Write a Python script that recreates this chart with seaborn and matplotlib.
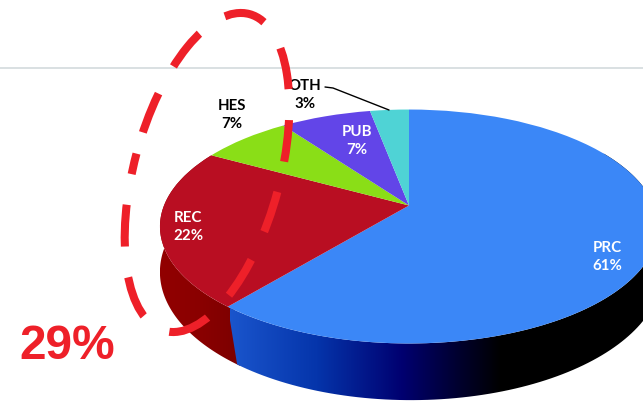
import numpy as np
import matplotlib
matplotlib.use('Agg')
import matplotlib.pyplot as plt
import matplotlib.transforms as mtransforms
from matplotlib.colors import LinearSegmentedColormap
from matplotlib.patches import Ellipse, Polygon
import seaborn as sns

# Pie data
categories = ['PRC', 'REC', 'HES', 'PUB', 'OTH']
shares = [61, 22, 7, 7, 3]
colors = ['#3b87f7', '#b90e22', '#8ade17', '#6245e8', '#4fd3d5']
label_colors = ['white', 'white', 'black', 'white', 'black']
label_xy = [(607, 257), (188, 227), (232, 115), (357, 141), (305, 95)]
circled = ['REC', 'HES']

# Perspective of the top face and of the bottom rim (pixels)
TILT = 0.1795
TOP = dict(cx=409, cy=206.5, sx=245, sy=113.2)
BOTTOM = dict(cx=411, cy=250, sx=247, sy=124)
BOTTOM_TURN = 2.5  # bottom rim sits a little further round than the top one


def project(x, y, cx, cy, sx, sy):
    w = 1 + TILT * y
    return cx + sx * x / w, cy - sy * y / w


class PieTilt(mtransforms.Transform):
    input_dims = 2
    output_dims = 2
    is_separable = False

    def transform_non_affine(self, values):
        px, py = project(values[:, 0], values[:, 1], **TOP)
        return np.column_stack([px, py])


def rim(deg, params):
    t = np.radians(deg)
    return np.column_stack(project(np.cos(t), np.sin(t), **params))


def draw_wall(ax, start, stop, cmap, x0, x1, zorder):
    # Side of the pie between two angles, a horizontal gradient clipped to the rim shape
    deg = np.linspace(start, stop, 120)
    verts = np.vstack([rim(deg, TOP), rim(deg + BOTTOM_TURN, BOTTOM)[::-1]])
    im = ax.imshow(np.linspace(0, 1, 256).reshape(1, -1), cmap=cmap, aspect='auto',
                   extent=(x0, x1, 402, 0), zorder=zorder)
    im.set_clip_path(Polygon(verts, transform=ax.transData))


sns.set_theme(style='white')
plt.rcParams['font.family'] = ['Lato', 'DejaVu Sans']

fig = plt.figure(figsize=(6.43, 4.02), dpi=100)
ax = fig.add_axes([0, 0, 1, 1])

wedges, _ = ax.pie(shares, colors=colors, startangle=90, counterclock=False,
                   wedgeprops={'linewidth': 0, 'zorder': 2})
tilt = PieTilt()
for w in wedges:
    w.set_transform(tilt + ax.transData)

# Walls follow the slice boundaries
boundary = 90 - 3.6 * np.cumsum(shares)
blue_side = LinearSegmentedColormap.from_list('blue_side', [(0, '#1a55cc'), (0.2, '#0535ab'), (0.4, '#000070'),
                                                            (0.54, '#00002a'), (0.63, '#000000'), (1, '#000000')])
red_side = LinearSegmentedColormap.from_list('red_side', ['#920000', '#8a0000', '#7c0000'])
draw_wall(ax, boundary[0], 30, blue_side, 230, 660, 1.2)
draw_wall(ax, boundary[1], boundary[0] + 2, red_side, 160, 240, 1.1)

ax.set_aspect('auto')
ax.set_xlim(0, 643)
ax.set_ylim(402, 0)
ax.set_axis_off()

# Rule across the page
ax.plot([0, 643], [68.5, 68.5], color='#d3dadd', lw=1.2, zorder=0)

for cat, share, col, (x, y) in zip(categories, shares, label_colors, label_xy):
    ax.text(x, y, f'{cat}\n{share}%', color=col, ha='center', va='center',
            fontsize=10.8, fontweight='bold', linespacing=1.4, zorder=4)

# Leader from OTH
ax.plot([325, 333, 389], [88, 89, 111], color='black', lw=1, zorder=4)

# Dashed ring around the circled slices
ring = Ellipse((207, 173.5), 328, 146, angle=-75, fill=False, edgecolor='#ee2029', lw=5.8,
               linestyle=(6.3, (5.2, 3.85)), capstyle='butt', zorder=5)
ax.add_patch(ring)

total = sum(s for c, s in zip(categories, shares) if c in circled)
ax.text(67.5, 347, f'{total}%', color='#ee2029', ha='center', va='center', fontsize=34.5,
        fontweight='bold', family=['Liberation Sans'], zorder=5)

plt.savefig('out.png', dpi=100)
